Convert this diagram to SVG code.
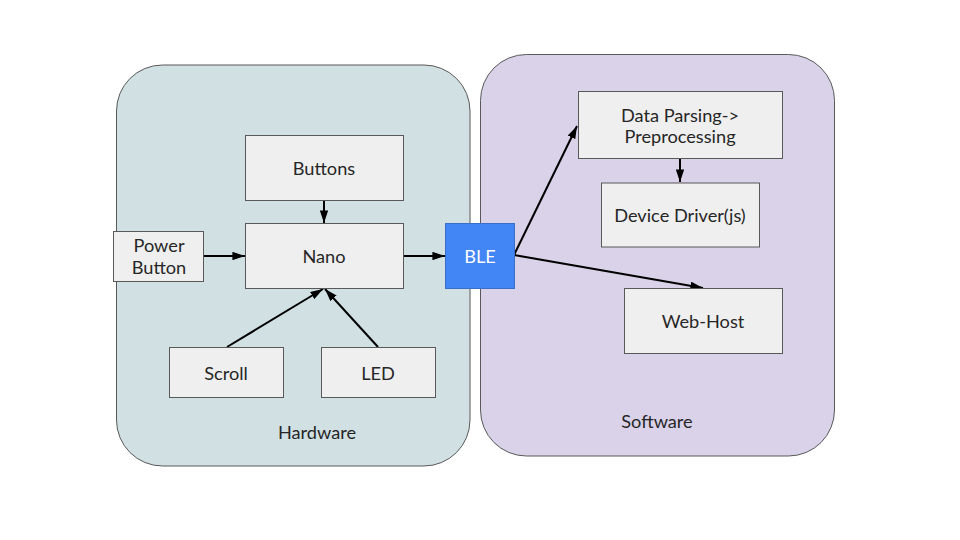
<svg xmlns="http://www.w3.org/2000/svg" width="960" height="540" viewBox="0 0 960 540">
<style>
.box{fill:#efefef;stroke:#595959;stroke-width:1}
.t{font-family:Lato,"Open Sans","Liberation Sans",sans-serif;font-size:18.2px;fill:#262626;text-anchor:middle;dominant-baseline:central}
.c{stroke:#000;stroke-width:2;fill:none;marker-end:url(#ah)}
</style>
<defs>
<marker id="ah" viewBox="0 0 10 10" refX="10" refY="5" markerWidth="6.3" markerHeight="4.2" orient="auto" markerUnits="strokeWidth" preserveAspectRatio="none">
<path d="M0,0L10,5L0,10z" fill="#000"/>
</marker>
</defs>
<rect width="960" height="540" fill="#fff"/>
<g id="hardware">
<rect x="116.5" y="65" width="353.5" height="401" rx="46" fill="#d0e0e3" stroke="#595959"/>
<text class="t" x="317" y="432">Hardware</text>
</g>
<g id="software">
<rect x="480.5" y="54.5" width="354" height="401.5" rx="46" fill="#d9d2e9" stroke="#595959"/>
<text class="t" x="657" y="421">Software</text>
</g>
<g id="connectors">
<line class="c" x1="324" y1="200" x2="324" y2="223"/>
<line class="c" x1="203" y1="256" x2="245" y2="256"/>
<line class="c" x1="403" y1="256" x2="445" y2="256"/>
<line class="c" x1="227" y1="347" x2="323" y2="289"/>
<line class="c" x1="378" y1="347" x2="325" y2="289"/>
<line class="c" x1="514" y1="255" x2="577" y2="126"/>
<line class="c" x1="514" y1="255" x2="703" y2="288"/>
<line class="c" x1="680" y1="158" x2="680" y2="182"/>
</g>
<g id="buttons">
<rect class="box" x="245.5" y="135.5" width="158" height="65"/>
<text class="t" x="324" y="168">Buttons</text>
</g>
<g id="nano">
<rect class="box" x="245.5" y="223.5" width="158" height="65"/>
<text class="t" x="324" y="256">Nano</text>
</g>
<g id="power">
<rect class="box" x="113.5" y="231.5" width="90" height="50"/>
<text class="t" x="159" y="245">Power</text>
<text class="t" x="159" y="267">Button</text>
</g>
<g id="ble">
<rect x="445.5" y="223.5" width="69" height="65" fill="#4285f4" stroke="#3a6fc9"/>
<text class="t" x="480" y="256" style="fill:#fff">BLE</text>
</g>
<g id="scroll">
<rect class="box" x="169.5" y="347.5" width="114" height="50"/>
<text class="t" x="226" y="373">Scroll</text>
</g>
<g id="led">
<rect class="box" x="321.5" y="347.5" width="114" height="50"/>
<text class="t" x="378" y="373">LED</text>
</g>
<g id="parsing">
<rect class="box" x="578.5" y="91.5" width="204" height="67"/>
<text class="t" x="680" y="115">Data Parsing-&gt;</text>
<text class="t" x="680" y="136">Preprocessing</text>
</g>
<g id="driver">
<rect class="box" x="601.5" y="183" width="158" height="64"/>
<text class="t" x="680" y="215">Device Driver(js)</text>
</g>
<g id="webhost">
<rect class="box" x="624.5" y="288.5" width="158" height="65"/>
<text class="t" x="703" y="321">Web-Host</text>
</g>
</svg>
